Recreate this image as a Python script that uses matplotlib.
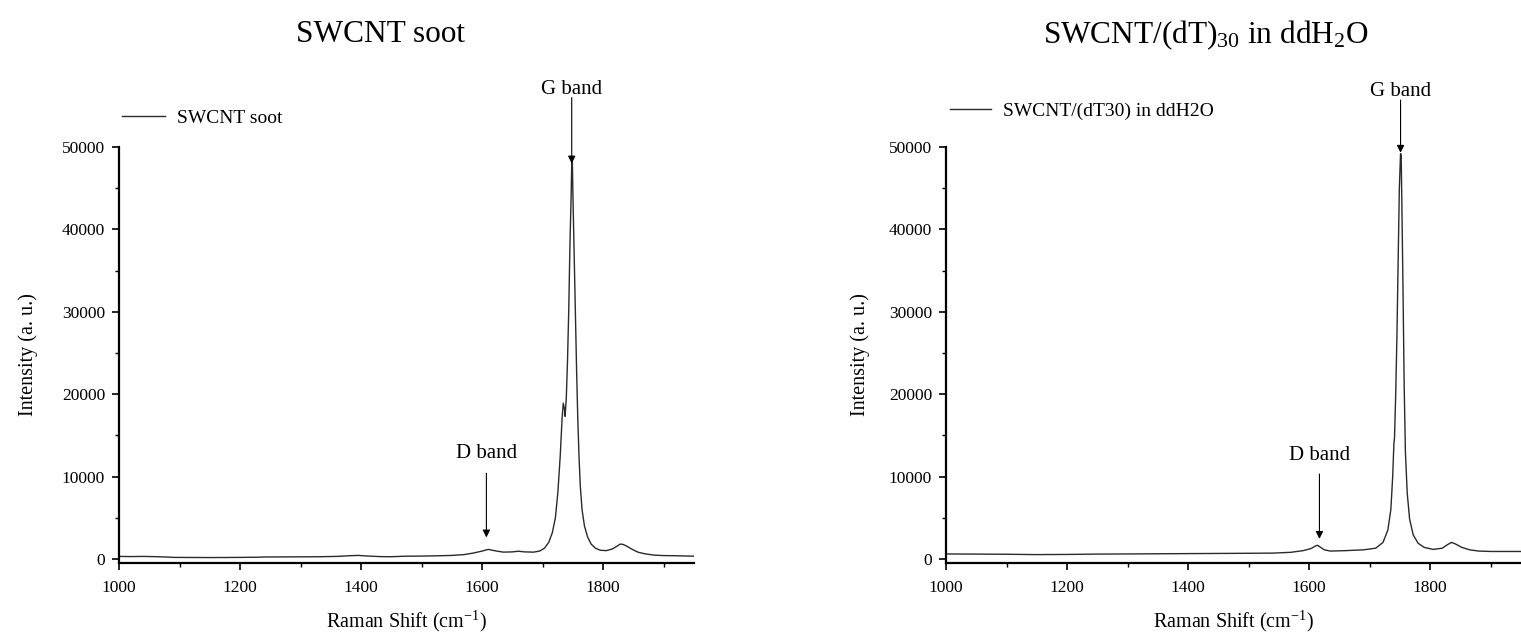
import matplotlib
matplotlib.use("Agg")
import matplotlib.pyplot as plt
from matplotlib.ticker import MultipleLocator

plt.rcParams['font.family'] = ['Liberation Serif', 'DejaVu Serif']
plt.rcParams['mathtext.fontset'] = 'custom'
plt.rcParams['mathtext.rm'] = 'Liberation Serif'
plt.rcParams['mathtext.it'] = 'Liberation Serif:italic'

# ---- data ----
soot_shift = [1000, 1020, 1040, 1060, 1080, 1090, 1120, 1150, 1180, 1200, 1230, 1240,
              1270, 1300, 1330, 1360, 1380, 1395, 1410, 1430, 1450, 1470, 1500, 1530,
              1550, 1570, 1585, 1600, 1610, 1620, 1635, 1650, 1660, 1670, 1685, 1695,
              1703, 1710, 1716, 1721, 1725, 1729, 1732, 1734, 1736, 1737, 1739, 1741,
              1743, 1745, 1747, 1748, 1749, 1750, 1752, 1754, 1756, 1758, 1760, 1762,
              1765, 1769, 1774, 1780, 1787, 1795, 1805, 1815, 1822, 1828, 1833, 1840,
              1848, 1858, 1870, 1885, 1900, 1920, 1935, 1950]
soot_int = [300, 280, 300, 270, 220, 180, 170, 160, 170, 180, 200, 230,
            240, 250, 260, 300, 380, 420, 350, 280, 260, 320, 340, 380,
            420, 520, 700, 950, 1150, 1000, 820, 850, 930, 850, 820, 950,
            1300, 2000, 3200, 5000, 8000, 12500, 17000, 18900, 18200, 17300, 19500, 24000,
            30000, 38000, 44000, 48000, 48200, 44000, 37000, 30000, 23000, 17000, 12500, 9000,
            6000, 4000, 2700, 1800, 1300, 1050, 1000, 1200, 1500, 1800, 1750, 1500,
            1150, 800, 600, 450, 400, 380, 350, 330]

dt_shift = [1000, 1050, 1100, 1150, 1200, 1250, 1300, 1350, 1400, 1450, 1500, 1540,
            1570, 1590, 1603, 1610, 1614, 1618, 1625, 1635, 1660, 1690, 1710, 1722,
            1730, 1735, 1738, 1740, 1741, 1743, 1745, 1747, 1749, 1751, 1752, 1753,
            1755, 1757, 1759, 1762, 1766, 1772, 1780, 1790, 1805, 1820, 1828, 1835,
            1842, 1852, 1865, 1880, 1900, 1920, 1950]
dt_int = [600, 580, 560, 520, 540, 580, 600, 620, 640, 660, 680, 700,
          800, 1000, 1250, 1550, 1650, 1450, 1100, 950, 1000, 1100, 1300, 2000,
          3500, 6000, 10000, 14000, 14700, 20000, 27000, 36000, 45000, 49200, 49000, 44000,
          33000, 21000, 13000, 8000, 4800, 2900, 1900, 1400, 1150, 1300, 1700, 2000,
          1800, 1400, 1100, 950, 900, 900, 900]

titles = ["SWCNT soot", r"SWCNT/(dT)$_{30}$ in ddH$_{2}$O"]
legend_labels = ["SWCNT soot", "SWCNT/(dT30) in ddH2O"]
xlabel = r"Raman Shift (cm$^{-1}$)"
ylabel = "Intensity (a. u.)"

# annotation anchors (x, arrow start y, arrow tip y)
g_band = [(1748, 56000, 48000), (1751, 55700, 49300)]
d_band = [(1607, 10400, 2600), (1617, 10300, 2430)]

W, H = 1521, 636
fig = plt.figure(figsize=(W / 100, H / 100), dpi=100)

axes_px = [(119, 563, 575, 416), (946, 563, 575, 416)]
title_px = [(380, 35), (1206, 35)]
legend_px = [(122, 118, 2.2), (950, 111, 2.1)]
ylabel_px = [38, 870]
gtext_px = [89, 92]
dtext_px = [453, 455]

series = [(soot_shift, soot_int), (dt_shift, dt_int)]

for i in range(2):
    l, b, w, h = axes_px[i]
    ax = fig.add_axes([l / W, (H - b) / H, w / W, h / H])
    xs, ys = series[i]
    ax.plot(xs, ys, color='#2a2a2a', lw=1.0, label=legend_labels[i])
    ax.set_xlim(1000, 1950)
    ax.set_ylim(-500, 50000)
    for s in ['top', 'right']:
        ax.spines[s].set_visible(False)
    for s in ['left', 'bottom']:
        ax.spines[s].set_linewidth(1.6)
    ax.xaxis.set_major_locator(MultipleLocator(200))
    ax.xaxis.set_minor_locator(MultipleLocator(100))
    ax.yaxis.set_major_locator(MultipleLocator(10000))
    ax.yaxis.set_minor_locator(MultipleLocator(5000))
    ax.tick_params(which='major', direction='out', length=5, width=1.2, labelsize=12.5, pad=5)
    ax.tick_params(which='minor', direction='out', length=3, width=1.0)
    ax.tick_params(axis='x', which='major', pad=7)
    ax.set_xlabel(xlabel, fontsize=14.5)
    ax.set_ylabel(ylabel, fontsize=14.5)
    ax.xaxis.set_label_coords(0.5, (b - 609) / h)
    ax.yaxis.set_label_coords((ylabel_px[i] - l) / w, 0.5)

    # title
    tx, ty = title_px[i]
    fig.text(tx / W, 1 - ty / H, titles[i], fontsize=22.5, ha='center', va='center')

    # legend
    lx, ly, hl = legend_px[i]
    ax.legend(loc='center left', bbox_to_anchor=(lx / W, 1 - ly / H),
              bbox_transform=fig.transFigure, frameon=False, fontsize=14,
              handlelength=hl, handletextpad=0.65, borderpad=0, borderaxespad=0)

    # G band
    gx, gy0, gy1 = g_band[i]
    ax.annotate('', xy=(gx, gy1), xytext=(gx, gy0),
                arrowprops=dict(arrowstyle='-|>', mutation_scale=11, lw=0.8,
                                color='k', shrinkA=0, shrinkB=0),
                annotation_clip=False)
    ax.annotate('G band', xy=(gx, 0), xycoords=('data', 'figure fraction'),
                xytext=(gx, 1 - gtext_px[i] / H), textcoords=('data', 'figure fraction'),
                ha='center', va='center', fontsize=15, annotation_clip=False)

    # D band
    dx, dy0, dy1 = d_band[i]
    ax.annotate('', xy=(dx, dy1), xytext=(dx, dy0),
                arrowprops=dict(arrowstyle='-|>', mutation_scale=11, lw=0.8,
                                color='k', shrinkA=0, shrinkB=0))
    ax.annotate('D band', xy=(dx, 0), xycoords=('data', 'figure fraction'),
                xytext=(dx, 1 - dtext_px[i] / H), textcoords=('data', 'figure fraction'),
                ha='center', va='center', fontsize=15, annotation_clip=False)

fig.savefig('out.png', dpi=100)
